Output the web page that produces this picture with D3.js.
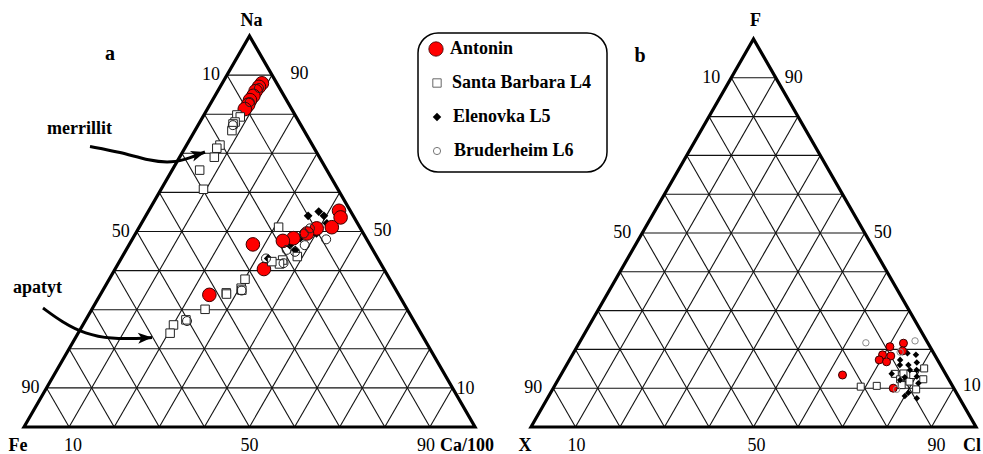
<!DOCTYPE html>
<html>
<head>
<meta charset="utf-8">
<script src="https://cdn.jsdelivr.net/npm/d3@7/dist/d3.min.js"></script>
<style>
  body { margin: 0; background: #fff; }
  text { font-family: "Liberation Serif", "Times New Roman", serif; fill: #000; }
</style>
</head>
<body>
<svg id="chart" width="983" height="454"></svg>
<script>
// ---- Diagram a: [Na, Ca/100] in %, Fe is the remainder ----
const antoninA = [
  [87.9, 8.8], [87.0, 8.6], [85.9, 8.4], [84.7, 8.5], [83.6, 8.3], [82.4, 8.5], [81.3, 8.3],
  [55.3, 42.2], [53.6, 43.4], [51.1, 42.7], [50.8, 39.5], [49.5, 38.0], [48.3, 35.6],
  [47.6, 33.6], [46.7, 27.4], [40.4, 33.0], [33.8, 24.2]
];
const santaBarbaraA = [
  [79.8, 7.3], [79.3, 8.3], [78.0, 7.8], [77.5, 7.6], [75.8, 8.2],
  [72.1, 7.4], [71.3, 7.1], [69.0, 7.7], [65.7, 6.1], [60.8, 9.4],
  [51.1, 30.9], [43.6, 38.8], [42.7, 36.0], [41.7, 35.8], [42.3, 33.8],
  [37.8, 30.1], [35.5, 30.4], [34.3, 27.7], [34.0, 27.9], [35.0, 30.8],
  [30.1, 25.1], [27.4, 22.2], [26.1, 20.1], [24.0, 20.4]
];
const elenovkaA = [
  [86.2, 8.6], [84.4, 8.6], [77.5, 8.25],
  [54.0, 36.0], [55.1, 37.8], [54.0, 39.5], [52.1, 41.1], [49.5, 40.1],
  [46.5, 35.7], [43.1, 32.6], [45.3, 37.5], [48.3, 37.1]
];
const bruderheimA = [
  [86.7, 8.75], [83.1, 8.5], [77.2, 7.7],
  [48.0, 43.0], [46.5, 39.0], [50.8, 38.0], [44.8, 37.7], [45.3, 35.6],
  [43.1, 32.1], [41.9, 36.6], [49.5, 37.3], [27.1, 22.6], [34.9, 30.8]
];

// ---- Diagram b: [F, Cl] in %, X is the remainder ----
const antoninB = [
  [20.7, 70.3], [21.6, 72.9], [19.6, 73.7], [18.3, 71.7], [18.6, 69.7],
  [17.3, 69.6], [16.8, 71.5], [13.4, 63.3], [10.0, 76.4]
];
const santaBarbaraB = [
  [10.4, 68.9], [10.6, 72.4], [13.7, 74.9], [12.3, 76.8], [13.8, 76.8], [11.7, 79.2],
  [9.7, 81.7], [15.1, 80.8], [12.3, 82.0], [13.4, 79.2], [10.8, 77.9]
];
const elenovkaB = [
  [19.0, 75.1], [18.6, 77.2], [17.3, 74.3], [16.0, 74.9], [16.0, 76.8], [16.6, 78.4],
  [14.7, 79.3], [13.7, 74.2], [12.8, 77.6], [13.0, 80.2], [11.3, 81.4], [8.8, 80.4],
  [8.0, 80.0], [7.4, 83.0], [12.1, 76.9], [14.7, 77.8]
];
const bruderheimB = [
  [21.7, 64.4], [22.2, 75.2], [9.7, 77.3], [19.3, 73.3]
];

// ---- Labels ----
const legendNames = ["Antonin", "Santa Barbara L4", "Elenovka L5", "Bruderheim L6"];
const cornersA = ["Na", "Fe", "Ca/100"];
const cornersB = ["F", "X", "Cl"];
const leftTicks = [10, 50, 90];
const rightTicks = [90, 50, 10];
const bottomTicks = [10, 50, 90];
const gridSteps = d3.range(10, 100, 10);

const svg = d3.select("#chart");

// Build one ternary frame: top component on the vertical axis, right component horizontally
function ternary(x0, x1, yBottom, yTop) {
  const xs = d3.scaleLinear().domain([0, 100]).range([x0, x1]);
  const ys = d3.scaleLinear().domain([0, 100]).range([yBottom, yTop]);
  const pt = (top, right) => [xs(right + top / 2), ys(top)];
  return { xs, ys, pt };
}

function drawFrame(t, corners, labelName, labelPos, opts) {
  const g = svg.append("g");
  const line = d3.line();
  // internal grid
  gridSteps.forEach(k => {
    const segs = [
      [t.pt(k, 0), t.pt(k, 100 - k)],
      [t.pt(0, k), t.pt(100 - k, k)],
      [t.pt(0, 100 - k), t.pt(100 - k, 0)]
    ];
    segs.forEach(s => g.append("path").attr("d", line(s))
      .attr("stroke", "#111").attr("stroke-width", 1.1).attr("fill", "none"));
  });
  // outline
  g.append("path")
    .attr("d", line([t.pt(0, 0), t.pt(100, 0), t.pt(0, 100)]) + "Z")
    .attr("fill", "none").attr("stroke", "#000").attr("stroke-width", 3.2)
    .attr("stroke-linejoin", "miter");

  const lbl = g.append("g").attr("font-size", 18);
  // left edge ticks (remainder component)
  leftTicks.forEach(v => {
    const p = t.pt(100 - v, 0);
    lbl.append("text").attr("x", p[0] - opts.leftGap).attr("y", p[1] + 5)
      .attr("text-anchor", "end").text(v);
  });
  // right edge ticks (top component)
  rightTicks.forEach(v => {
    const p = t.pt(v, 100 - v);
    lbl.append("text").attr("x", p[0] + opts.rightGap(v)).attr("y", p[1] + 5 + opts.rightDy(v))
      .attr("text-anchor", "start").text(v);
  });
  // bottom ticks (right component)
  bottomTicks.forEach(v => {
    const p = t.pt(0, v);
    lbl.append("text").attr("x", p[0] + opts.bottomDx(v)).attr("y", 451)
      .attr("text-anchor", "middle").text(v);
  });
  // corner names
  const top = t.pt(100, 0), bl = t.pt(0, 0), br = t.pt(0, 100);
  lbl.append("text").attr("x", top[0] + 2).attr("y", 26).attr("text-anchor", "middle")
    .attr("font-weight", "bold").text(corners[0]);
  lbl.append("text").attr("x", bl[0] + opts.blDx).attr("y", 451).attr("text-anchor", "middle")
    .attr("font-weight", "bold").text(corners[1]);
  lbl.append("text").attr("x", br[0] + opts.brDx).attr("y", 451).attr("text-anchor", "start")
    .attr("font-weight", "bold").text(corners[2]);
  lbl.append("text").attr("x", labelPos[0]).attr("y", labelPos[1]).attr("text-anchor", "middle")
    .attr("font-weight", "bold").attr("font-size", 20).text(labelName);
}

// marker painters
const square = d3.symbol().type(d3.symbolSquare);
function drawSeries(t, data, kind, size, ringColor) {
  const g = svg.append("g");
  const pos = data.map(d => t.pt(d[0], d[1]));
  if (kind === "red") {
    g.selectAll("circle").data(pos).join("circle")
      .attr("cx", p => p[0]).attr("cy", p => p[1]).attr("r", size)
      .attr("fill", "#ff0000").attr("stroke", "#3a0000").attr("stroke-width", 1);
  } else if (kind === "square") {
    g.selectAll("path").data(pos).join("path")
      .attr("d", square.size(size * size))
      .attr("transform", p => `translate(${p[0]},${p[1]})`)
      .attr("fill", "#fff").attr("stroke", "#222").attr("stroke-width", 1);
  } else if (kind === "diamond") {
    g.selectAll("path").data(pos).join("path")
      .attr("d", square.size(size * size))
      .attr("transform", p => `translate(${p[0]},${p[1]}) rotate(45)`)
      .attr("fill", "#000");
  } else if (kind === "ring") {
    g.selectAll("circle").data(pos).join("circle")
      .attr("cx", p => p[0]).attr("cy", p => p[1]).attr("r", size)
      .attr("fill", "none").attr("stroke", ringColor || "#222").attr("stroke-width", 1);
  }
}

// ---- Diagram a ----
const tA = ternary(24, 475, 427, 36);
drawFrame(tA, cornersA, "a", [110, 60], {
  leftGap: 7,
  rightGap: v => 4 + (v - 10) * 0.18,
  rightDy: v => (v === 10 ? 1 : -1),
  bottomDx: v => -(v - 50) * 0.1,
  blDx: -6, brDx: -35
});
drawSeries(tA, elenovkaA, "diamond", 6.2);
drawSeries(tA, antoninA, "red", 6.8);
drawSeries(tA, santaBarbaraA, "square", 8.5);
drawSeries(tA, bruderheimA, "ring", 4.5, "#222");

// ---- Diagram b ----
const tB = ternary(531, 976, 427, 39);
drawFrame(tB, cornersB, "b", [640, 62], {
  leftGap: 11,
  rightGap: v => 9,
  rightDy: v => (v === 10 ? -2 : 0),
  bottomDx: v => 3 + (v - 50) * 0.05,
  blDx: -6, brDx: -13
});
drawSeries(tB, santaBarbaraB, "square", 7);
drawSeries(tB, elenovkaB, "diamond", 4.6);
drawSeries(tB, antoninB, "red", 4);
drawSeries(tB, bruderheimB, "ring", 3.2, "#8a8a8a");

// ---- Annotations ----
const ann = svg.append("g");
const curve = d3.line().curve(d3.curveBasis);
function arrow(points, tipAngle) {
  ann.append("path").attr("d", curve(points)).attr("fill", "none")
    .attr("stroke", "#000").attr("stroke-width", 3);
  const tip = points[points.length - 1];
  const head = [[0, 0], [-14, -5.5], [-10.5, 0], [-14, 5.5]];
  ann.append("path").attr("d", d3.line()(head) + "Z")
    .attr("transform", `translate(${tip[0]},${tip[1]}) rotate(${tipAngle})`)
    .attr("fill", "#000");
}
ann.append("text").attr("x", 47).attr("y", 134).attr("font-size", 18)
  .attr("font-weight", "bold").text("merrillit");
arrow([[90, 146.5], [120, 152], [150, 161], [172, 163], [190, 158], [205, 152]], -18);
ann.append("text").attr("x", 13).attr("y", 293).attr("font-size", 18)
  .attr("font-weight", "bold").text("apatyt");
arrow([[43, 308], [62, 322], [85, 334], [112, 339], [138, 338.5], [152, 337.5]], -3);

// ---- Legend ----
const lg = svg.append("g");
lg.append("rect").attr("x", 418).attr("y", 33).attr("width", 189).attr("height", 139)
  .attr("rx", 20).attr("ry", 20).attr("fill", "#fff").attr("stroke", "#000").attr("stroke-width", 1.5);
const rowY = d3.scalePoint().domain(legendNames).range([49, 151]);
legendNames.forEach((name, i) => {
  const y = rowY(name);
  const mx = 436;
  if (i === 0) {
    lg.append("circle").attr("cx", mx).attr("cy", y).attr("r", 7.2)
      .attr("fill", "#ff0000").attr("stroke", "#3a0000").attr("stroke-width", 0.8);
  } else if (i === 1) {
    lg.append("path").attr("d", square.size(70)).attr("transform", `translate(${mx + 1},${y})`)
      .attr("fill", "#fff").attr("stroke", "#666").attr("stroke-width", 1);
  } else if (i === 2) {
    lg.append("path").attr("d", square.size(36)).attr("transform", `translate(${mx + 1},${y}) rotate(45)`)
      .attr("fill", "#000");
  } else {
    lg.append("circle").attr("cx", mx + 1).attr("cy", y).attr("r", 3.6)
      .attr("fill", "none").attr("stroke", "#777").attr("stroke-width", 1);
  }
  lg.append("text").attr("x", i === 0 ? 450 : 452 + (i - 1)).attr("y", y + 5)
    .attr("font-size", 18).attr("font-weight", "bold").text(name);
});
</script>
</body>
</html>
